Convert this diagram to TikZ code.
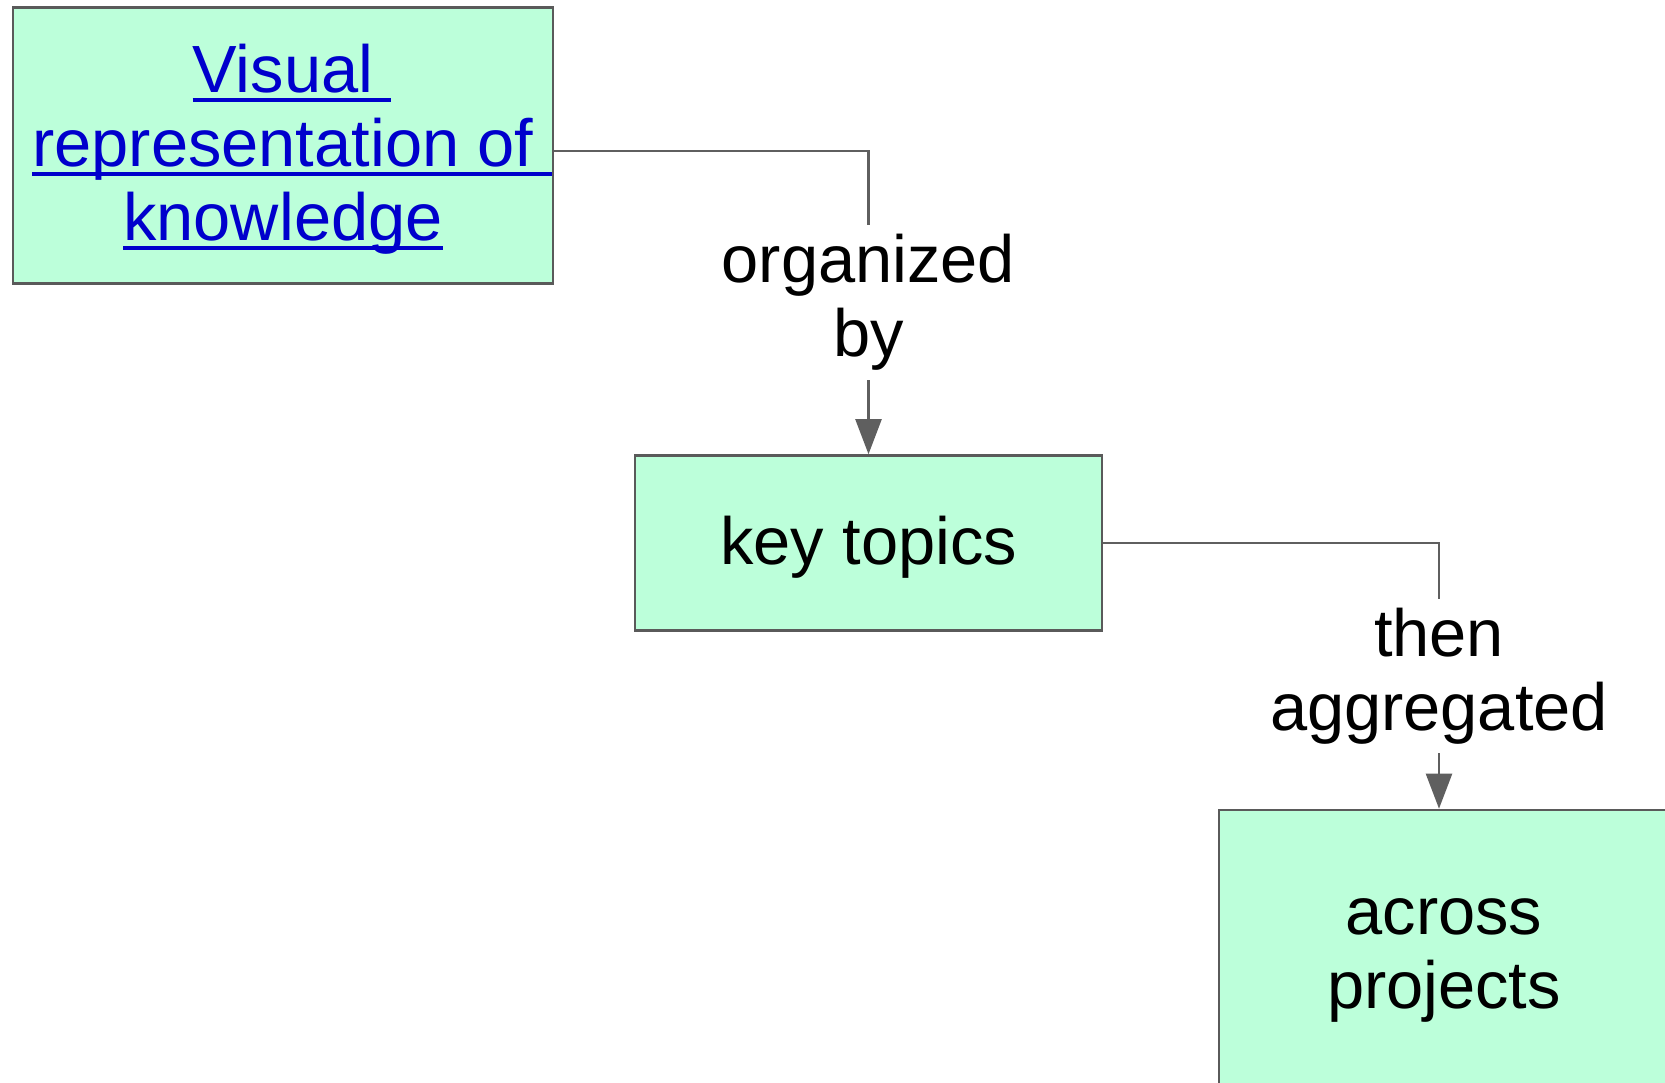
\documentclass[tikz,border=0pt]{standalone}
\usepackage{fontspec}
\setmainfont{Liberation Sans}
\usetikzlibrary{arrows.meta}
\definecolor{mint}{RGB}{188,255,218}
\definecolor{edgegray}{RGB}{90,90,90}
\definecolor{linegray}{RGB}{95,95,95}
\definecolor{linkblue}{RGB}{0,0,204}
\newcommand\myul[2][0pt]{\setbox0\hbox{#2}\rlap{\rule[-9.5pt]{\dimexpr\wd0+#1\relax}{4pt}}\box0}
\newcommand\bst{\rule[-14pt]{0pt}{70pt}}
\begin{document}
\begin{tikzpicture}[x=1pt,y=-1pt,
  box/.style={draw=edgegray, line width=2.6pt, fill=mint, inner sep=0pt, align=center, font=\fontsize{66.8}{74}\selectfont},
  conn/.style={draw=linegray, line width=2.3pt, -{Triangle[length=35pt,width=26pt]}},
  lbl/.style={fill=white, inner xsep=4pt, inner ysep=9pt, align=center, font=\fontsize{66.8}{74}\selectfont, text=black}]
\clip (0,0) rectangle (1665,1083);
\fill[white] (0,0) rectangle (1665,1083);
\node[box, minimum width=540pt, minimum height=276pt, text=linkblue] (b1) at (283,145.5)
  {\bst\myul[18pt]{Visual}\\ \bst\myul[18pt]{representation of}\\ \bst\myul{knowledge}};
\node[box, minimum width=467pt, minimum height=175pt] (b2) at (868.5,543) {\bst key topics};
\node[box, minimum width=450pt, minimum height=280pt] (b3) at (1444,950) {\bst across\\ \bst projects};
\draw[conn] ([yshift=-5.3pt]b1.east) -| (b2.north) node[lbl, pos=0.75] (l1) {organized\\by};
\draw[conn] (b2.east) -| ([xshift=-5pt]b3.north) node[lbl, pos=0.75] (l2) {then\\aggregated};
\end{tikzpicture}
\end{document}
